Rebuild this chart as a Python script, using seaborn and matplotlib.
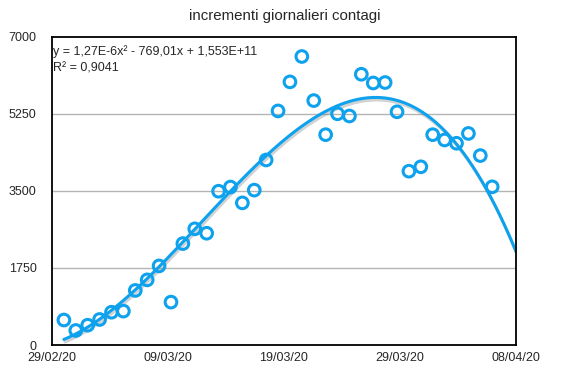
import numpy as np
import pandas as pd
import matplotlib
matplotlib.use("Agg")
import matplotlib.pyplot as plt
import matplotlib.patheffects as pe
import seaborn as sns

# Data: day index (0 = 29/02/20) and daily new cases
days = list(range(1, 38))
contagi = [568, 330, 450, 580, 745, 770, 1240, 1480, 1797, 975,
           2305, 2640, 2540, 3495, 3590, 3230, 3520, 4205, 5320, 5980,
           6557, 5555, 4780, 5255, 5205, 6153, 5955, 5965, 5300, 3950,
           4050, 4780, 4660, 4585, 4808, 4305, 3595]
xtick_labels = ["29/02/20", "09/03/20", "19/03/20", "29/03/20", "08/04/20"]
ytick_values = [0, 1750, 3500, 5250, 7000]
title = "incrementi giornalieri contagi"
eq_text = "y = 1,27E-6x² - 769,01x + 1,553E+11"
r2_text = "R² = 0,9041"

df = pd.DataFrame({"day": days, "contagi": contagi})

sns.set_theme(style="white")
plt.rcParams["font.family"] = ["Liberation Sans", "DejaVu Sans"]

blue = "#0ea2ee"
fig = plt.figure(figsize=(5.7, 3.86), dpi=100)
ax = fig.add_axes([52/570, 1-345/386, (516-52)/570, (345-37)/386])

x_end = 39.0
# polynomial trendline fitted from the data
coef = np.polyfit(df["day"], df["contagi"], 3)
tx = np.linspace(1, x_end, 300)
trend = pd.DataFrame({"day": tx, "fit": np.polyval(coef, tx)})

for y in ytick_values[1:-1]:
    ax.axhline(y, color="#b4b4b4", lw=1.0, zorder=0)

sns.lineplot(data=trend, x="day", y="fit", ax=ax, color=blue, lw=2.2,
             path_effects=[pe.SimpleLineShadow(offset=(0.8, -1.8), alpha=0.35, shadow_color="gray"),
                           pe.Normal()], zorder=2)
sns.scatterplot(data=df, x="day", y="contagi", ax=ax, s=70, facecolor="none",
                edgecolor=blue, linewidth=2.2, zorder=3, clip_on=False)

ax.set_xlim(0, x_end)
ax.set_ylim(0, 7000)
ax.set_xticks(np.linspace(0, x_end, 5))
ax.set_xticklabels(xtick_labels, fontsize=9)
ax.set_yticks(ytick_values)
ax.set_yticklabels([str(v) for v in ytick_values], fontsize=9)
ax.tick_params(axis="x", length=0, pad=5)
ax.tick_params(axis="y", length=0, pad=11)
ax.set_xlabel("")
ax.set_ylabel("")
for s in ax.spines.values():
    s.set_visible(True)
    s.set_color("black")
    s.set_linewidth(1.3)

ax.text(0.003, 0.975, eq_text, transform=ax.transAxes, ha="left", va="top", fontsize=9)
ax.text(0.003, 0.917, r2_text, transform=ax.transAxes, ha="left", va="top", fontsize=9)

fig.text(0.5, 1-16/386, title, ha="center", va="center", fontsize=10.8)

fig.savefig("out.png", dpi=100)
